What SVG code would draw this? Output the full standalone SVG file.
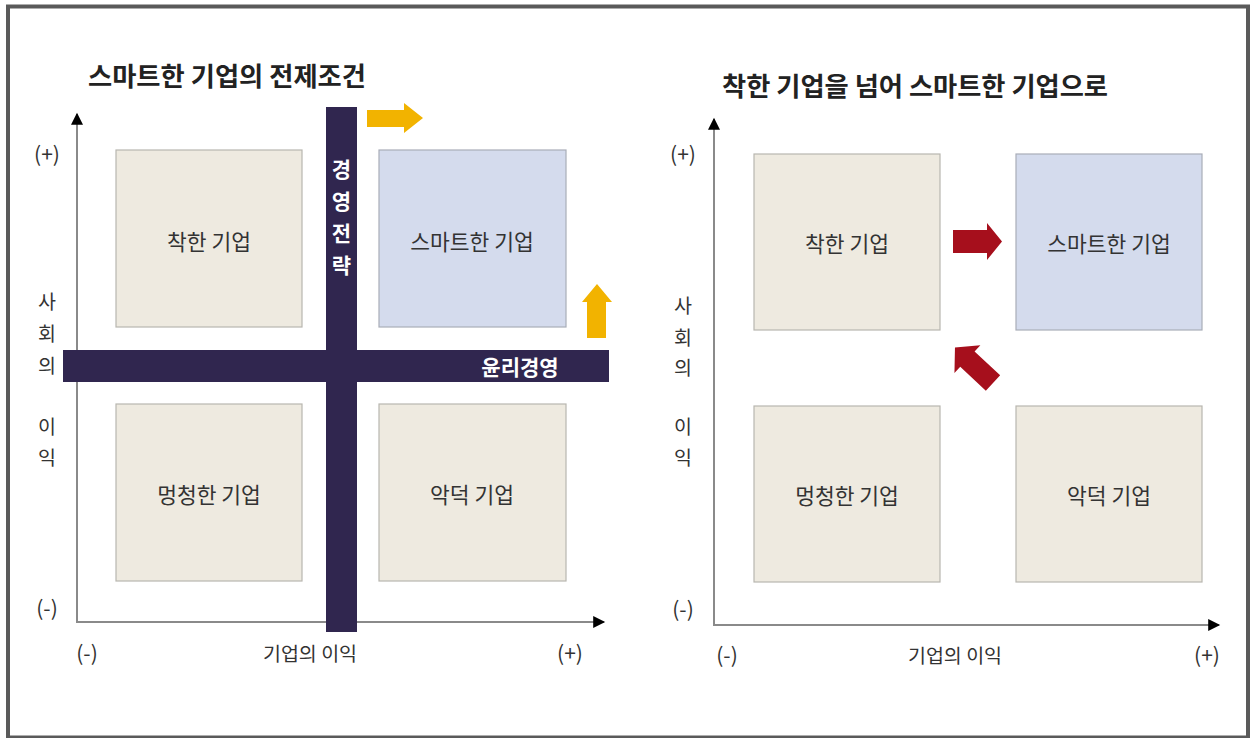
<svg xmlns="http://www.w3.org/2000/svg" width="1254" height="738" viewBox="0 0 1254 738">
<style>
text{font-family:"Noto Sans CJK KR","Noto Sans",sans-serif;fill:#333}
.title{font-size:26px;font-weight:bold;fill:#222}
.lbl{font-size:21.5px;text-anchor:middle;dominant-baseline:central}
.ax{font-size:19.5px;text-anchor:middle;dominant-baseline:central;fill:#333}
.par{font-size:21px}
.bar{font-size:21px;font-weight:bold;fill:#fff;text-anchor:middle;dominant-baseline:central}
.beige{fill:#eeeae0;stroke:#b8b6b0;stroke-width:1.2}
.blue{fill:#d4dbed;stroke:#a9adb8;stroke-width:1.2}
.axis{stroke:#8a8a8a;stroke-width:2;fill:none}
.navy{fill:#30264f}
.yel{fill:#f2b300}
.red{fill:#a60f1c}
</style>
<defs>
<marker id="ah" viewBox="0 0 10 10" refX="9" refY="5" markerWidth="8" markerHeight="6" orient="auto" markerUnits="strokeWidth">
<path d="M0,0 L10,5 L0,10 z" fill="#000"/>
</marker>
</defs>
<rect x="0" y="0" width="1254" height="738" fill="#fff"/>
<rect x="8" y="6.5" width="1240" height="731" fill="#fff" stroke="#5a5a5a" stroke-width="4"/>

<!-- LEFT CHART -->
<text class="title" x="88" y="86" textLength="278" lengthAdjust="spacingAndGlyphs">스마트한 기업의 전제조건</text>

<g id="left-connectors">
<line class="axis" x1="77" y1="623" x2="77" y2="114" marker-end="url(#ah)"/>
<line class="axis" x1="76" y1="622" x2="604" y2="622" marker-end="url(#ah)"/>
</g>

<g id="L-good"><rect class="beige" x="116" y="150" width="186" height="177"/><text class="lbl" x="209" y="240">착한 기업</text></g>
<g id="L-smart"><rect class="blue" x="379" y="150" width="187" height="177"/><text class="lbl" x="472" y="240">스마트한 기업</text></g>
<g id="L-dumb"><rect class="beige" x="116" y="404" width="186" height="177"/><text class="lbl" x="209" y="493">멍청한 기업</text></g>
<g id="L-evil"><rect class="beige" x="379" y="404" width="187" height="177"/><text class="lbl" x="472" y="493">악덕 기업</text></g>

<g id="L-ethics"><rect class="navy" x="63" y="350" width="546" height="32"/><text class="bar" x="520" y="366">윤리경영</text></g>
<g id="L-strategy"><rect class="navy" x="326" y="107" width="31" height="525"/>
<text class="bar" x="341.5" y="168">경</text><text class="bar" x="341.5" y="200">영</text><text class="bar" x="341.5" y="232">전</text><text class="bar" x="341.5" y="264">략</text></g>

<g id="L-arrows">
<polygon class="yel" points="367,110 404,110 404,103 423,118 404,133 404,127 367,127"/>
<polygon class="yel" points="587,338 587,302 582,302 597,284 612,302 606,302 606,338"/>
</g>

<g id="L-axis-labels">
<text class="ax par" x="47" y="153">(+)</text>
<text class="ax par" x="47" y="607">(-)</text>
<text class="ax" x="47" y="300">사</text>
<text class="ax" x="47" y="332">회</text>
<text class="ax" x="47" y="364">의</text>
<text class="ax" x="47" y="425">이</text>
<text class="ax" x="47" y="456">익</text>
<text class="ax par" x="87" y="652">(-)</text>
<text class="ax" x="310" y="652">기업의 이익</text>
<text class="ax par" x="570" y="652">(+)</text>
</g>

<!-- RIGHT CHART -->
<text class="title" x="722" y="96" textLength="386" lengthAdjust="spacingAndGlyphs">착한 기업을 넘어 스마트한 기업으로</text>

<g id="right-connectors">
<line class="axis" x1="714" y1="626" x2="714" y2="119" marker-end="url(#ah)"/>
<line class="axis" x1="713" y1="625" x2="1219" y2="625" marker-end="url(#ah)"/>
<polygon class="red" points="953,230 987,230 987,223 1002,241.5 987,260 987,253 953,253"/>
<polygon class="red" transform="translate(993,383) rotate(-137)" points="0,-10.5 35,-10.5 35,-19 52,0 35,19 35,10.5 0,10.5"/>
</g>

<g id="R-good"><rect class="beige" x="754" y="154" width="186" height="176"/><text class="lbl" x="847" y="242">착한 기업</text></g>
<g id="R-smart"><rect class="blue" x="1016" y="154" width="186" height="176"/><text class="lbl" x="1109" y="242">스마트한 기업</text></g>
<g id="R-dumb"><rect class="beige" x="754" y="406" width="186" height="176"/><text class="lbl" x="847" y="494">멍청한 기업</text></g>
<g id="R-evil"><rect class="beige" x="1016" y="406" width="186" height="176"/><text class="lbl" x="1109" y="494">악덕 기업</text></g>

<g id="R-axis-labels">
<text class="ax par" x="683" y="153">(+)</text>
<text class="ax par" x="683" y="608">(-)</text>
<text class="ax" x="683" y="304">사</text>
<text class="ax" x="683" y="336">회</text>
<text class="ax" x="683" y="366">의</text>
<text class="ax" x="683" y="425">이</text>
<text class="ax" x="683" y="456">익</text>
<text class="ax par" x="727" y="654">(-)</text>
<text class="ax" x="955" y="654">기업의 이익</text>
<text class="ax par" x="1207" y="654">(+)</text>
</g>
</svg>
